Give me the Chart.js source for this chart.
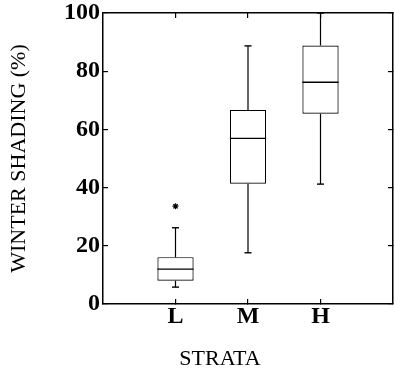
<!DOCTYPE html>
<html>
<head>
<meta charset="utf-8">
<script src="https://cdn.jsdelivr.net/npm/chart.js@4.4.1/dist/chart.umd.min.js"></script>
<style>
  html, body { margin: 0; padding: 0; background: #ffffff; }
  #wrap { width: 394px; height: 375px; position: relative; }
  .pre { position: absolute; left: -1000px; top: 0; font-family: "Liberation Serif"; }
</style>
</head>
<body>
<div id="wrap"><canvas id="c"></canvas></div>
<span class="pre" style="font-weight:bold;font-size:24px">100 LMH</span>
<span class="pre" style="font-size:22px">STRATA</span>
<script>
// ---- data ----
const categories  = ['L', 'M', 'H'];
const whiskerLow  = [5.8, 17.6, 41.2];
const q1          = [8.0, 41.3, 65.4];
const median      = [12.0, 56.9, 76.2];
const q3          = [16.1, 66.7, 88.8];
const whiskerHigh = [26.2, 88.7, 100];
const outliers    = [[33.6], [], []];
const yTicks      = [0, 20, 40, 60, 80, 100];
const xTitle      = 'STRATA';
const yTitle      = 'WINTER SHADING (%)';

// ---- build datasets from the arrays ----
const pos = categories.map((_, i) => i + 1);
const half = 0.25;

const boxData = pos.map((x, i) => ({ x: x, y: [q1[i], q3[i]] }));
const whiskerData = [];
const capData = [];
const medianData = [];
const outlierData = [];
pos.forEach((x, i) => {
  whiskerData.push({ x: x, y: q3[i] }, { x: x, y: whiskerHigh[i] }, { x: x, y: null });
  whiskerData.push({ x: x, y: q1[i] }, { x: x, y: whiskerLow[i] }, { x: x, y: null });
  capData.push({ x: x, y: whiskerLow[i] }, { x: x, y: whiskerHigh[i] });
  medianData.push({ x: x - half, y: median[i] }, { x: x + half, y: median[i] }, { x: x, y: null });
  outliers[i].forEach(v => outlierData.push({ x: x, y: v }));
});

const serif = '"Liberation Serif", "Times New Roman", Times, serif';

const xTitlePlugin = {
  id: 'xTitlePlugin',
  afterDraw(chart) {
    const ctx = chart.ctx;
    const a = chart.chartArea;
    ctx.save();
    ctx.font = '22px ' + serif;
    ctx.fillStyle = '#000';
    ctx.textAlign = 'center';
    ctx.textBaseline = 'alphabetic';
    ctx.fillText(xTitle, (a.left + a.right) / 2 - 28, 365);
    ctx.restore();
  }
};

function edgeAxis(position, min, max, tickVals, fitFn) {
  return {
    type: 'linear', position: position, min: min, max: max, offset: false,
    afterBuildTicks: s => { s.ticks = tickVals.map(v => ({ value: v })); },
    afterFit: fitFn,
    grid: { drawOnChartArea: false, drawTicks: true, tickLength: -5, color: '#000', lineWidth: 1.2, offset: false },
    border: { display: true, color: '#000', width: 1.5 },
    ticks: { display: false }
  };
}

function build() {
  new Chart(document.getElementById('c'), {
    type: 'bar',
    data: {
      datasets: [
        {
          type: 'line', label: 'whiskers', data: whiskerData,
          borderColor: '#000', borderWidth: 1.2, pointRadius: 0, spanGaps: false, order: 2
        },
        {
          type: 'bar', label: 'box', data: boxData,
          backgroundColor: '#fff', borderColor: '#000', borderWidth: 1.2,
          borderSkipped: false, barPercentage: 0.5, categoryPercentage: 1.0, order: 1
        },
        {
          type: 'line', label: 'median', data: medianData,
          borderColor: '#000', borderWidth: 1.4, pointRadius: 0, spanGaps: false, order: 0
        },
        {
          type: 'line', label: 'caps', data: capData, showLine: false,
          pointStyle: 'line', pointRadius: 3.5, pointBorderColor: '#000', pointBorderWidth: 1.4, order: 0
        },
        {
          type: 'line', label: 'outliers', data: outlierData, showLine: false,
          pointStyle: 'star', pointRadius: 3, pointBorderColor: '#000', pointBorderWidth: 1.3, order: 0
        }
      ]
    },
    options: {
      responsive: true,
      maintainAspectRatio: false,
      animation: false,
      layout: { autoPadding: false, padding: { top: 13, right: 1, left: 0, bottom: 0 } },
      plugins: { legend: { display: false }, tooltip: { enabled: false } },
      scales: {
        x: {
          type: 'linear', position: 'bottom', min: 0, max: 4, offset: false,
          afterBuildTicks: s => { s.ticks = pos.map(v => ({ value: v })); },
          afterFit: s => { s.height = 71; s.paddingLeft = 0; s.paddingRight = 0; },
          grid: { drawOnChartArea: false, drawTicks: true, tickLength: -5, color: '#000', lineWidth: 1.2, offset: false },
          border: { display: true, color: '#000', width: 1.5 },
          ticks: {
            color: '#000', padding: 3, maxRotation: 0, autoSkip: false,
            font: { family: serif, size: 24, weight: 'bold' },
            callback: v => categories[v - 1] || ''
          }
        },
        x2: edgeAxis('top', 0, 4, pos, s => { s.height = 0; s.paddingLeft = 0; s.paddingRight = 0; }),
        y: {
          type: 'linear', position: 'left', min: 0, max: 100,
          afterBuildTicks: s => { s.ticks = yTicks.map(v => ({ value: v })); },
          afterFit: s => { s.width = 103; s.paddingTop = 0; s.paddingBottom = 0; },
          grid: { drawOnChartArea: false, drawTicks: true, tickLength: -5, color: '#000', lineWidth: 1.2 },
          border: { display: true, color: '#000', width: 1.5 },
          ticks: {
            color: '#000', padding: 8,
            font: { family: serif, size: 24, weight: 'bold' }
          },
          title: {
            display: true, text: yTitle, color: '#000',
            font: { family: serif, size: 22, weight: 'normal' },
            padding: { top: 6, bottom: 0 }
          }
        },
        y2: edgeAxis('right', 0, 100, yTicks, s => { s.width = 0; s.paddingTop = 0; s.paddingBottom = 0; })
      }
    },
    plugins: [xTitlePlugin]
  });
}

Promise.all([
  document.fonts.load('bold 24px "Liberation Serif"'),
  document.fonts.load('22px "Liberation Serif"')
]).catch(() => {}).then(build);
</script>
</body>
</html>
